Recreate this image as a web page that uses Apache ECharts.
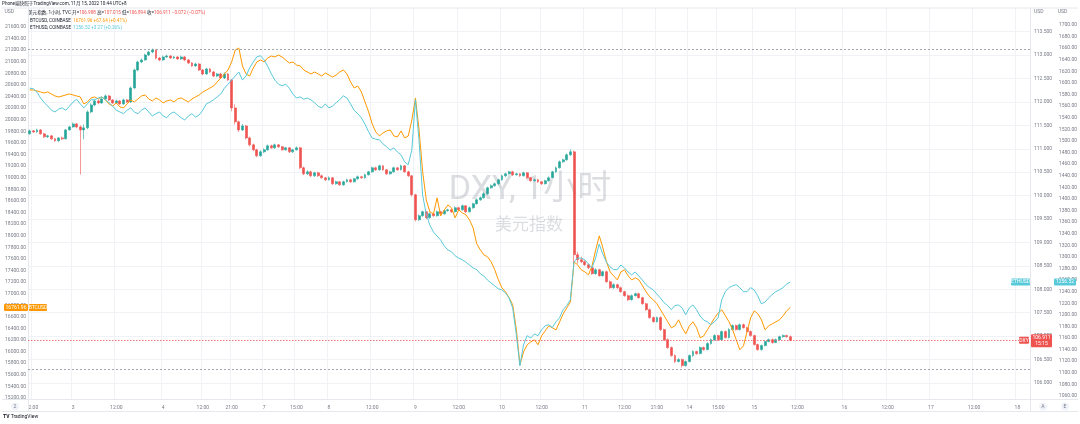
<!DOCTYPE html>
<html><head><meta charset="utf-8">
<script src="https://cdn.jsdelivr.net/npm/echarts/dist/echarts.min.js"></script>
<style>html,body{margin:0;padding:0;background:#fff;}#c{width:1080px;height:424px;}</style>
</head><body><div id="c"></div>
<script>
// ---- time axis (hourly slots, UTC+8) ----
const slotCount = 278;
const timeTickIdx  = [1,12,24,37,48,56,65,74,83,95,107,119,131,142,154,165,174,183,191,201,213,226,238,250,262,274];
const timeTickText = ['2:00','3','12:00','4','12:00','21:00','7','15:00','8','12:00','9','12:00','10','12:00','11','12:00','21:00','14','15:00','15','12:00','16','12:00','17','12:00','18'];

// ---- DXY hourly candles ----
const dxyOpen = [111.319,111.383,111.361,111.404,111.319,111.255,111.276,111.212,111.170,111.233,
111.212,111.404,111.468,111.532,111.468,111.404,111.447,111.787,111.937,112.022,
111.980,112.065,112.129,112.044,111.980,112.022,111.958,112.044,112.001,112.300,
112.683,112.854,112.897,113.003,113.067,113.110,112.939,112.897,112.961,112.982,
112.939,112.961,112.918,112.961,112.897,112.833,112.769,112.811,112.683,112.598,
112.705,112.641,112.555,112.598,112.513,112.598,112.470,111.873,111.575,111.404,
111.489,111.233,111.084,110.978,110.850,110.935,110.978,111.063,111.020,111.084,
111.042,110.978,111.020,110.935,110.978,111.020,110.594,110.465,110.508,110.423,
110.487,110.423,110.381,110.338,110.381,110.253,110.295,110.231,110.295,110.338,
110.295,110.359,110.402,110.381,110.444,110.508,110.594,110.551,110.636,110.551,
110.465,110.508,110.594,110.551,110.636,110.508,110.423,110.018,109.485,109.570,
109.656,109.528,109.613,109.570,109.656,109.613,109.677,109.698,109.656,109.741,
109.698,109.783,109.656,109.741,109.826,109.911,109.954,110.039,110.167,110.210,
110.253,110.338,110.423,110.465,110.508,110.444,110.465,110.423,110.487,110.381,
110.317,110.338,110.295,110.253,110.317,110.381,110.508,110.594,110.722,110.764,
110.871,110.935,108.739,108.632,108.590,108.526,108.462,108.334,108.419,108.291,
108.376,108.163,108.035,108.099,108.035,107.950,107.865,107.779,107.865,107.907,
107.822,107.694,107.566,107.396,107.310,107.396,107.140,106.926,106.756,106.585,
106.458,106.500,106.372,106.458,106.585,106.671,106.628,106.756,106.713,106.841,
106.926,107.012,106.926,107.097,106.969,107.140,107.225,107.140,107.246,107.182,
107.097,107.012,106.820,106.713,106.798,106.884,106.926,106.863,106.926,106.990,
107.012,106.988];
const dxyClose = [111.383,111.361,111.404,111.319,111.255,111.276,111.212,111.170,111.233,111.212,
111.404,111.468,111.532,111.468,111.404,111.447,111.787,111.937,112.022,111.980,
112.065,112.129,112.044,111.980,112.022,111.958,112.044,112.001,112.300,112.683,
112.854,112.897,113.003,113.067,113.110,112.939,112.897,112.961,112.982,112.939,
112.961,112.918,112.961,112.897,112.833,112.769,112.811,112.683,112.598,112.705,
112.641,112.555,112.598,112.513,112.598,112.470,111.873,111.575,111.404,111.489,
111.233,111.084,110.978,110.850,110.935,110.978,111.063,111.020,111.084,111.042,
110.978,111.020,110.935,110.978,111.020,110.594,110.465,110.508,110.423,110.487,
110.423,110.381,110.338,110.381,110.253,110.295,110.231,110.295,110.338,110.295,
110.359,110.402,110.381,110.444,110.508,110.594,110.551,110.636,110.551,110.465,
110.508,110.594,110.551,110.636,110.508,110.423,110.018,109.485,109.570,109.656,
109.528,109.613,109.570,109.656,109.613,109.677,109.698,109.656,109.741,109.698,
109.783,109.656,109.741,109.826,109.911,109.954,110.039,110.167,110.210,110.253,
110.338,110.423,110.465,110.508,110.444,110.465,110.423,110.487,110.381,110.317,
110.338,110.295,110.253,110.317,110.381,110.508,110.594,110.722,110.764,110.871,
110.935,108.739,108.632,108.590,108.526,108.462,108.334,108.419,108.291,108.376,
108.163,108.035,108.099,108.035,107.950,107.865,107.779,107.865,107.907,107.822,
107.694,107.566,107.396,107.310,107.396,107.140,106.926,106.756,106.585,106.458,
106.500,106.372,106.458,106.585,106.671,106.628,106.756,106.713,106.841,106.926,
107.012,106.926,107.097,106.969,107.140,107.225,107.140,107.246,107.182,107.097,
107.012,106.820,106.713,106.798,106.884,106.926,106.863,106.926,106.990,107.012,
106.988,106.911];
const dxyHigh = [111.41,111.40,111.43,111.42,111.34,111.30,111.29,111.23,111.25,111.26,
111.42,111.49,111.56,111.55,111.50,111.52,111.82,111.97,112.06,112.05,
112.09,112.16,112.15,112.06,112.05,112.04,112.07,112.06,112.33,112.71,
112.88,112.93,113.03,113.09,113.14,113.12,112.96,112.99,113.01,113.00,
112.98,112.98,112.99,112.98,112.92,112.85,112.84,112.83,112.70,112.73,
112.72,112.66,112.62,112.62,112.63,112.62,112.49,111.95,111.60,111.53,
111.51,111.26,111.11,111.00,110.97,111.01,111.09,111.09,111.11,111.10,
111.06,111.04,111.04,111.00,111.05,111.04,110.62,110.54,110.53,110.51,
110.51,110.45,110.40,110.41,110.40,110.32,110.31,110.32,110.36,110.36,
110.38,110.43,110.42,110.47,110.53,110.62,110.62,110.66,110.65,110.57,
110.53,110.62,110.61,110.66,110.65,110.53,110.44,110.04,109.60,109.68,
109.67,109.64,109.63,109.68,109.68,109.70,109.72,109.72,109.77,109.76,
109.81,109.80,109.77,109.85,109.94,109.98,110.07,110.19,110.24,110.28,
110.36,110.45,110.49,110.53,110.53,110.49,110.48,110.51,110.50,110.40,
110.36,110.36,110.31,110.34,110.41,110.53,110.62,110.75,110.79,110.90,
110.99,110.96,108.80,108.70,108.62,108.55,108.48,108.45,108.44,108.40,
108.40,108.19,108.13,108.12,108.06,107.97,107.89,107.89,107.93,107.93,
107.84,107.71,107.59,107.42,107.42,107.42,107.16,106.95,106.78,106.61,
106.53,106.52,106.48,106.61,106.70,106.69,106.78,106.78,106.87,106.95,
107.04,107.03,107.12,107.12,107.17,107.25,107.25,107.27,107.27,107.20,
107.12,107.03,106.84,106.82,106.91,106.95,106.95,106.95,107.01,107.04,
107.03,107.015];
const dxyLow = [111.30,111.34,111.34,111.30,111.23,111.23,111.19,111.15,111.15,111.19,
111.20,111.39,111.45,111.44,110.45,111.20,111.42,111.76,111.91,111.95,
111.96,112.04,112.02,111.96,111.96,111.94,111.94,111.98,111.98,112.28,
112.66,112.83,112.88,112.98,113.04,112.91,112.87,112.88,112.94,112.92,
112.92,112.90,112.90,112.87,112.81,112.75,112.75,112.66,112.57,112.58,
112.62,112.53,112.53,112.49,112.49,112.45,111.80,111.52,111.36,111.38,
111.20,111.05,110.95,110.82,110.83,110.91,110.96,111.00,111.00,111.02,
110.96,110.96,110.91,110.91,110.96,110.57,110.44,110.44,110.40,110.40,
110.40,110.36,110.31,110.32,110.23,110.23,110.21,110.21,110.28,110.27,
110.28,110.34,110.36,110.36,110.43,110.49,110.53,110.53,110.53,110.44,
110.45,110.49,110.53,110.54,110.49,110.40,109.98,109.45,109.46,109.55,
109.50,109.51,109.55,109.55,109.59,109.59,109.66,109.63,109.64,109.68,
109.68,109.63,109.64,109.72,109.81,109.89,109.94,110.02,110.15,110.19,
110.23,110.32,110.40,110.45,110.42,110.43,110.40,110.41,110.36,110.30,
110.30,110.27,110.23,110.24,110.30,110.37,110.49,110.58,110.70,110.75,
110.85,108.55,108.55,108.56,108.50,108.43,108.31,108.31,108.27,108.27,
108.14,108.01,108.01,108.01,107.93,107.84,107.75,107.76,107.85,107.80,
107.67,107.54,107.37,107.29,107.29,107.11,106.90,106.73,106.56,106.43,
106.44,106.33,106.35,106.44,106.56,106.60,106.61,106.69,106.70,106.82,
106.90,106.90,106.91,106.95,106.95,107.12,107.12,107.12,107.16,107.08,
106.99,106.80,106.69,106.69,106.78,106.87,106.84,106.85,106.91,106.97,
106.97,106.894];

// ---- BTCUSD (left scale) ----
const btcClose = [20514,20514,20497,20479,20462,20479,20445,20410,20393,20410,
20428,20445,20428,20410,20393,20272,20307,20376,20393,20359,
20393,20341,20272,20238,20290,20221,20204,20272,20341,20307,
20359,20410,20428,20359,20324,20376,20341,20290,20324,20341,
20307,20359,20376,20341,20307,20359,20393,20428,20479,20514,
20548,20583,20652,20721,20790,20859,20997,21203,21238,20928,
20790,20755,20893,20997,21031,20997,21066,21100,21083,21117,
21083,21031,20979,20997,20945,20928,20859,20824,20790,20824,
20790,20755,20807,20772,20738,20772,20824,20859,20790,20652,
20548,20583,20479,20307,20135,19928,19790,19721,19773,19807,
19824,19721,19704,19807,19686,19721,19997,20376,19824,19100,
18617,18411,18376,18652,18342,18445,18531,18480,18307,18445,
18393,18359,18273,18135,17859,17755,17669,17635,17549,17411,
17238,17100,17031,16928,16807,16376,15773,15997,16118,16169,
16204,16118,16273,16359,16445,16411,16376,16514,16652,16756,
16859,17549,17497,17411,17376,17324,17480,17755,17997,17790,
17549,17376,17307,17238,17376,17411,17307,17238,17273,17238,
17135,17031,16945,16893,16824,16721,16618,16514,16411,16445,
16549,16411,16307,16445,16514,16411,16238,16273,16376,16480,
16583,16669,16721,16618,16514,16376,16204,16031,16100,16342,
16583,16704,16652,16549,16376,16445,16480,16514,16549,16618,
16704,16761.96];

// ---- ETHUSD (right outer scale) ----
const ethClose = [1591,1590,1584,1574,1566,1560,1553,1550,1555,1557,
1553,1560,1567,1572,1564,1557,1564,1571,1571,1574,
1576,1571,1566,1560,1553,1550,1547,1553,1557,1550,
1547,1553,1557,1550,1543,1547,1550,1543,1540,1547,
1550,1545,1540,1536,1543,1547,1541,1545,1553,1564,
1567,1571,1576,1581,1591,1598,1605,1612,1619,1605,
1612,1626,1636,1645,1647,1640,1629,1616,1605,1598,
1595,1598,1591,1581,1574,1576,1572,1574,1571,1566,
1560,1557,1564,1557,1560,1566,1571,1578,1574,1564,
1553,1547,1540,1529,1516,1505,1503,1502,1495,1490,
1484,1488,1481,1476,1464,1459,1484,1571,1502,1407,
1374,1355,1343,1336,1329,1319,1312,1309,1302,1298,
1295,1291,1286,1281,1278,1271,1267,1260,1255,1250,
1245,1243,1238,1229,1212,1166,1112,1148,1164,1160,
1167,1164,1174,1181,1183,1178,1188,1195,1209,1216,
1226,1291,1298,1298,1295,1288,1281,1298,1322,1305,
1291,1283,1278,1278,1286,1281,1274,1269,1274,1267,
1260,1252,1247,1243,1236,1229,1221,1216,1209,1216,
1217,1212,1200,1212,1217,1209,1198,1191,1188,1183,
1188,1195,1226,1240,1247,1250,1252,1247,1240,1240,
1247,1243,1233,1219,1222,1229,1235,1240,1243,1247,
1253,1256.52];

// ---- horizontal reference lines (DXY scale) ----
const refLines = [113.13, 106.29];
const dxyLast = 106.911, btcLast = 16761.96, ethLast = 1256.52;

// ---- legend / header texts ----
const headerText = 'Phone端快照于TradingView.com, 11月 15, 2022 10:44 UTC+8';
const dxyTitle = '美元指数, 1小时, TVC';
const dxyStats = [['开=', '106.988'], ['高=', '107.015'], ['低=', '106.894'], ['收=', '106.911'], ['', '−0.072 (−0.07%)']];
const btcTitle = 'BTCUSD, COINBASE', btcStat = '16761.96 +67.64 (+0.41%)';
const ethTitle = 'ETHUSD, COINBASE', ethStat = '1256.52 +3.27 (+0.26%)';

// ================= chart =================
const FONT = 'Roboto, "Noto Sans CJK SC", sans-serif';
const GREY = '#787b86', UP = '#26a69a', DOWN = '#ef5350', ORANGE = '#ff9800', CYAN = '#58c9d9';
const slots = Array.from({length: slotCount}, (_, i) => String(i));
const tickMap = new Map(timeTickIdx.map((k, j) => [k, timeTickText[j]]));
const isTick = (i) => tickMap.has(i);
const L = 28, R = 50;

const chart = echarts.init(document.getElementById('c'));
const hiddenX = (gi) => ({type: 'category', gridIndex: gi, data: slots, boundaryGap: true, show: false});
const yLab = (dec, margin) => ({fontSize: 5, color: GREY, fontFamily: FONT, margin, formatter: (v) => v.toFixed(dec)});

chart.setOption({
  animation: false,
  backgroundColor: '#ffffff',
  grid: [
    {left: L, right: R, top: 8, bottom: 25},
    {left: L, right: R, top: 31.7, bottom: 41},
    {left: L, right: R, top: 27, bottom: 26},
    {left: L, right: R, top: 25, bottom: 28}
  ],
  xAxis: [
    {type: 'category', gridIndex: 0, data: slots, boundaryGap: true,
     axisLine: {show: false}, axisTick: {show: false},
     axisLabel: {interval: (i) => isTick(i), formatter: (v, i) => tickMap.get(i) || '', fontSize: 5, color: GREY, fontFamily: FONT, margin: 6},
     splitLine: {show: true, interval: (i) => isTick(i), lineStyle: {color: '#f1f2f6', width: 1}}},
    hiddenX(1), hiddenX(2), hiddenX(3)
  ],
  yAxis: [
    {type: 'value', gridIndex: 0, show: false, min: 0, max: 1, splitLine: {show: false}},
    {type: 'value', gridIndex: 1, position: 'right', min: 106, max: 113.5, interval: 0.5,
     axisLine: {show: false}, axisTick: {show: false}, axisLabel: yLab(3, 4),
     splitLine: {show: true, lineStyle: {color: '#f1f2f6', width: 1}},
     name: 'USD', nameLocation: 'end', nameGap: 17, nameTextStyle: {fontSize: 5, color: GREY, fontFamily: FONT, align: 'left', padding: [0, 0, 0, 4]}},
    {type: 'value', gridIndex: 2, position: 'left', min: 15200, max: 21600, interval: 200,
     axisLine: {show: false}, axisTick: {show: false}, axisLabel: yLab(2, 2), splitLine: {show: false},
     name: 'USD', nameLocation: 'end', nameGap: 13, nameTextStyle: {fontSize: 5, color: GREY, fontFamily: FONT, align: 'right', padding: [0, 14, 0, 0]}},
    {type: 'value', gridIndex: 3, position: 'right', offset: 26, min: 1060, max: 1700, interval: 20,
     axisLine: {show: false}, axisTick: {show: false}, axisLabel: yLab(2, 3), splitLine: {show: false},
     name: 'USD', nameLocation: 'end', nameGap: 11, nameTextStyle: {fontSize: 5, color: GREY, fontFamily: FONT, align: 'left', padding: [0, 0, 0, 2]}}
  ],
  series: [
    {type: 'candlestick', name: 'DXY', xAxisIndex: 1, yAxisIndex: 1, barWidth: 2.4,
     data: dxyOpen.map((o, i) => [o, dxyClose[i], dxyLow[i], dxyHigh[i]]),
     itemStyle: {color: UP, color0: DOWN, borderColor: UP, borderColor0: DOWN, borderWidth: 0.6},
     markLine: {silent: true, symbol: 'none', label: {show: false},
       data: [
         {yAxis: dxyLast, lineStyle: {color: DOWN, type: [1.5, 1.5], width: 0.8}},
         {yAxis: refLines[0], lineStyle: {color: '#8c8f99', type: [2, 2], width: 0.8}},
         {yAxis: refLines[1], lineStyle: {color: '#8c8f99', type: [2, 2], width: 0.8}}
       ]}},
    {type: 'line', name: 'BTCUSD', xAxisIndex: 2, yAxisIndex: 2, data: btcClose, showSymbol: false,
     lineStyle: {color: ORANGE, width: 1}, itemStyle: {color: ORANGE}, z: 4},
    {type: 'line', name: 'ETHUSD', xAxisIndex: 3, yAxisIndex: 3, data: ethClose, showSymbol: false,
     lineStyle: {color: CYAN, width: 1}, itemStyle: {color: CYAN}, z: 4}
  ]
});

// ---- annotations positioned through the library's scales ----
const yDxy = chart.convertToPixel({yAxisIndex: 1}, dxyLast);
const yBtc = chart.convertToPixel({yAxisIndex: 2}, btcLast);
const yEth = chart.convertToPixel({yAxisIndex: 3}, ethLast);
const tag = (x, y, w, h, fill, text) => ([
  {type: 'rect', shape: {x, y: y - h / 2, width: w, height: h, r: 1}, style: {fill}, z: 100},
  {type: 'text', x: x + w / 2, y, z: 101, style: {text, fill: '#fff', font: '5px ' + FONT, align: 'center', verticalAlign: 'middle', lineHeight: 6}}
]);
const g = [];
// frame lines
g.push({type: 'line', shape: {x1: 2, y1: 8, x2: 1078, y2: 8}, style: {stroke: '#e6e8ee', lineWidth: 1}, z: 1});
g.push({type: 'line', shape: {x1: 2, y1: 399.5, x2: 1078, y2: 399.5}, style: {stroke: '#e6e8ee', lineWidth: 1}, z: 1});
g.push({type: 'line', shape: {x1: 2, y1: 411.5, x2: 1078, y2: 411.5}, style: {stroke: '#e6e8ee', lineWidth: 1}, z: 1});
g.push({type: 'line', shape: {x1: 28.5, y1: 8, x2: 28.5, y2: 411}, style: {stroke: '#e6e8ee', lineWidth: 1}, z: 1});
g.push({type: 'line', shape: {x1: 1030.5, y1: 8, x2: 1030.5, y2: 411}, style: {stroke: '#e6e8ee', lineWidth: 1}, z: 1});
// watermark
g.push({type: 'text', x: 530, y: 190, z: 0, style: {text: 'DXY, 1小时', fill: 'rgba(130,134,145,0.28)', font: '34px ' + FONT, align: 'center', verticalAlign: 'middle'}});
g.push({type: 'text', x: 529, y: 226, z: 0, style: {text: '美元指数', fill: 'rgba(130,134,145,0.28)', font: '17px ' + FONT, align: 'center', verticalAlign: 'middle'}});
// header
g.push({type: 'text', x: 2, y: 4, style: {text: headerText, fill: '#131722', font: '4.6px ' + FONT, verticalAlign: 'middle'}});
const statRich = dxyStats.map(([k, v]) => (k ? '{d|' + k + '}' : '') + '{r|' + v + '}').join(' ');
g.push({type: 'text', x: 28, y: 13, style: {text: '{d|' + dxyTitle + '} ' + statRich, verticalAlign: 'middle', font: '4.6px ' + FONT,
  rich: {d: {fill: '#131722', font: '4.6px ' + FONT}, r: {fill: DOWN, font: '4.6px ' + FONT}}}});
g.push({type: 'text', x: 30, y: 20.5, style: {text: '{d|' + btcTitle + '}  {v|' + btcStat + '}', verticalAlign: 'middle', font: '4.6px ' + FONT,
  rich: {d: {fill: '#131722', font: '4.6px ' + FONT}, v: {fill: ORANGE, font: '4.6px ' + FONT}}}});
g.push({type: 'text', x: 30, y: 28, style: {text: '{d|' + ethTitle + '}  {v|' + ethStat + '}', verticalAlign: 'middle', font: '4.6px ' + FONT,
  rich: {d: {fill: '#131722', font: '4.6px ' + FONT}, v: {fill: CYAN, font: '4.6px ' + FONT}}}});
// price tags
g.push(...tag(1031, yDxy + 0.5, 21, 13, DOWN, dxyLast.toFixed(3) + '\n15:15'));
g.push(...tag(1019, yDxy, 10, 7, DOWN, 'DXY'));
g.push(...tag(1054, yEth, 22, 7, CYAN, ethLast.toFixed(2)));
g.push(...tag(1011, yEth, 19, 7, CYAN, 'ETHUSD'));
g.push(...tag(4, yBtc, 24, 7, ORANGE, btcLast.toFixed(2)));
g.push(...tag(29, yBtc, 18, 7, ORANGE, 'BTCUSD'));
// bottom buttons & logo
[[15, '2'], [1043, 'A'], [1065, 'E']].forEach(([x, t]) => {
  g.push({type: 'circle', shape: {cx: x, cy: 406.5, r: 4}, style: {fill: '#f0f3fa'}, z: 5});
  g.push({type: 'text', x, y: 406.5, z: 6, style: {text: t, fill: GREY, font: '5px ' + FONT, align: 'center', verticalAlign: 'middle'}});
});
g.push({type: 'text', x: 3, y: 417, style: {text: '{b|TV} TradingView', fill: '#131722', font: '5px ' + FONT, verticalAlign: 'middle',
  rich: {b: {font: 'bold 5px ' + FONT, fill: '#131722'}}}});
chart.setOption({graphic: g});
</script></body></html>
